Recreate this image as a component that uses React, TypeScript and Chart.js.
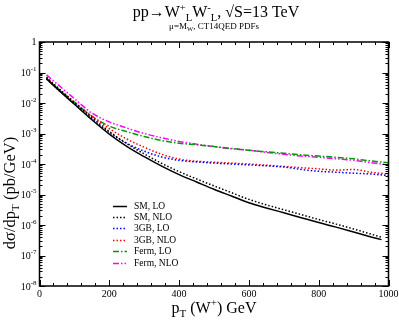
import React, { useEffect, useRef } from "react";
import { Chart, registerables } from "chart.js";

Chart.register(...registerables);

const ptFull = [20, 50, 100, 150, 200, 250, 300, 350, 400, 450, 500, 550, 600, 650, 700, 750, 800, 850, 900, 950, 1000];
const ptSM = [20, 50, 100, 150, 200, 250, 300, 350, 400, 450, 500, 550, 600, 650, 700, 750, 800, 850, 900, 950, 980];

const smLO = [6.17e-2, 2.95e-2, 9.12e-3, 2.82e-3, 9.55e-4, 3.8e-4, 1.74e-4, 8.51e-5, 4.47e-5, 2.57e-5, 1.48e-5, 8.91e-6, 5.37e-6, 3.63e-6, 2.51e-6, 1.74e-6, 1.2e-6, 8.51e-7, 5.89e-7, 4.07e-7, 3.31e-7];
const smNLO = [6.92e-2, 3.31e-2, 1.02e-2, 3.31e-3, 1.17e-3, 4.68e-4, 2.14e-4, 1.05e-4, 5.62e-5, 3.24e-5, 1.91e-5, 1.15e-5, 6.92e-6, 4.57e-6, 3.16e-6, 2.19e-6, 1.51e-6, 1.07e-6, 7.41e-7, 5.01e-7, 3.98e-7];
const gb3LO = [6.17e-2, 3.02e-2, 9.55e-3, 3.02e-3, 1.07e-3, 4.79e-4, 2.63e-4, 1.7e-4, 1.32e-4, 1.17e-4, 1.07e-4, 1.0e-4, 9.33e-5, 8.71e-5, 7.94e-5, 6.61e-5, 5.75e-5, 5.37e-5, 5.01e-5, 4.68e-5, 4.17e-5];
const gb3NLO = [6.92e-2, 3.39e-2, 1.07e-2, 3.63e-3, 1.45e-3, 6.61e-4, 3.55e-4, 2.09e-4, 1.45e-4, 1.23e-4, 1.15e-4, 1.07e-4, 1.0e-4, 9.12e-5, 8.32e-5, 7.59e-5, 6.92e-5, 6.31e-5, 6.61e-5, 5.37e-5, 4.68e-5];
const fermLO = [6.46e-2, 3.16e-2, 1.07e-2, 3.72e-3, 1.74e-3, 1.15e-3, 7.94e-4, 5.89e-4, 4.79e-4, 4.27e-4, 3.72e-4, 3.24e-4, 2.82e-4, 2.51e-4, 2.24e-4, 2.0e-4, 1.82e-4, 1.66e-4, 1.48e-4, 1.26e-4, 1.1e-4];
const fermNLO = [8.32e-2, 4.27e-2, 1.38e-2, 4.68e-3, 2.4e-3, 1.51e-3, 1.0e-3, 7.24e-4, 5.5e-4, 4.47e-4, 3.72e-4, 3.16e-4, 2.82e-4, 2.4e-4, 2.09e-4, 1.82e-4, 1.66e-4, 1.48e-4, 1.32e-4, 1.1e-4, 9.33e-5];

const seriesLabels = ["SM, LO", "SM, NLO", "3GB, LO", "3GB, NLO", "Ferm, LO", "Ferm, NLO"];
const xTicks = [0, 200, 400, 600, 800, 1000];
const yExps = [0, -1, -2, -3, -4, -5, -6, -7, -8];

const SERIF = "'Liberation Serif', 'DejaVu Serif', serif";

type Seg = [string, number, number];

function drawSegs(ctx: CanvasRenderingContext2D, segs: Seg[], cx: number, by: number) {
  let total = 0;
  for (const [t, s] of segs) {
    ctx.font = `${s}px ${SERIF}`;
    total += ctx.measureText(t).width;
  }
  let x = cx - total / 2;
  ctx.textAlign = "left";
  ctx.textBaseline = "alphabetic";
  for (const [t, s, dy] of segs) {
    ctx.font = `${s}px ${SERIF}`;
    ctx.fillText(t, x, by + dy);
    x += ctx.measureText(t).width;
  }
}

const styles = [
  { color: "#000000", dash: [] as number[] },
  { color: "#000000", dash: [1.5, 2] },
  { color: "#0000ff", dash: [1.5, 2] },
  { color: "#ff0000", dash: [1.5, 2] },
  { color: "#009900", dash: [6, 2, 1.5, 2] },
  { color: "#ff00ff", dash: [6, 2, 1.5, 2, 1.5, 2] },
];

const decorPlugin = {
  id: "decor",
  afterDraw(chart: any) {
    const ctx: CanvasRenderingContext2D = chart.ctx;
    const xs = chart.scales.x;
    const ys = chart.scales.y;
    const { left, right, top, bottom } = chart.chartArea;
    ctx.save();
    ctx.strokeStyle = "#000";
    ctx.fillStyle = "#000";
    ctx.setLineDash([]);

    ctx.lineWidth = 1;
    ctx.beginPath();
    for (let v = 0; v <= 1000; v += 40) {
      const major = v % 200 === 0;
      const len = major ? 6 : 3;
      const px = Math.round(xs.getPixelForValue(v)) + 0.5;
      ctx.moveTo(px, bottom);
      ctx.lineTo(px, bottom - len);
      ctx.moveTo(px, top);
      ctx.lineTo(px, top + len);
    }
    for (let e = -8; e <= 0; e++) {
      for (let m = 1; m <= 9; m++) {
        const v = m * Math.pow(10, e);
        if (v > 1.0001) break;
        const len = m === 1 ? 6 : 3;
        const py = Math.round(ys.getPixelForValue(v)) + 0.5;
        ctx.moveTo(left, py);
        ctx.lineTo(left + len, py);
        ctx.moveTo(right, py);
        ctx.lineTo(right - len, py);
      }
    }
    ctx.stroke();

    ctx.lineWidth = 1.5;
    ctx.strokeRect(left, top, right - left, bottom - top);

    ctx.font = `10px ${SERIF}`;
    ctx.textAlign = "center";
    ctx.textBaseline = "top";
    for (const v of xTicks) {
      ctx.fillText(String(v), xs.getPixelForValue(v), bottom + 3);
    }

    for (const e of yExps) {
      const py = ys.getPixelForValue(Math.pow(10, e));
      const rx = left - 3;
      if (e === 0) {
        ctx.font = `10px ${SERIF}`;
        ctx.textAlign = "right";
        ctx.textBaseline = "middle";
        ctx.fillText("1", rx, py);
        continue;
      }
      const sup = String(e);
      ctx.font = `7px ${SERIF}`;
      const ws = ctx.measureText(sup).width;
      ctx.font = `10px ${SERIF}`;
      const wb = ctx.measureText("10").width;
      const x0 = rx - ws - wb;
      ctx.textAlign = "left";
      ctx.textBaseline = "middle";
      ctx.fillText("10", x0, py + 1);
      ctx.font = `7px ${SERIF}`;
      ctx.fillText(sup, x0 + wb, py - 3);
    }

    drawSegs(ctx, [
      ["pp\u2192W", 16, 0], ["+", 10.5, -6], ["L", 10.5, 4], ["W", 16, 0], ["-", 10.5, -6], ["L", 10.5, 4], [", \u221AS=13 TeV", 16, 0],
    ], (left + right) / 2 + 2, 17);
    drawSegs(ctx, [["\u03BC=M", 9, 0], ["W", 6.5, 2], [", CT14QED PDFs", 9, 0]], (left + right) / 2, 29);

    drawSegs(ctx, [["p", 16, 0], ["T", 11, 4], [" (W", 16, 0], ["+", 11, -7], [") GeV", 16, 0]], (left + right) / 2, 313);

    ctx.save();
    ctx.translate(15, 193);
    ctx.rotate(-Math.PI / 2);
    drawSegs(ctx, [["d\u03C3/dp", 16.5, 0], ["T", 11, 4], [" (pb/GeV)", 16.5, 0]], 0, 0);
    ctx.restore();

    const ly0 = 205.5;
    const dy = 11.4;
    seriesLabels.forEach((lab, i) => {
      const y = ly0 + i * dy;
      ctx.strokeStyle = styles[i].color;
      ctx.lineWidth = 1.5;
      ctx.setLineDash(styles[i].dash);
      ctx.beginPath();
      ctx.moveTo(113, Math.round(y) + 0.5);
      ctx.lineTo(127, Math.round(y) + 0.5);
      ctx.stroke();
      ctx.setLineDash([]);
      ctx.fillStyle = "#000";
      ctx.font = `9.5px ${SERIF}`;
      ctx.textAlign = "left";
      ctx.textBaseline = "middle";
      ctx.fillText(lab, 134, y + 0.5);
    });

    ctx.restore();
  },
};

export default function App() {
  const ref = useRef<HTMLCanvasElement | null>(null);
  useEffect(() => {
    if (!ref.current) return;
    const seriesData = [smLO, smNLO, gb3LO, gb3NLO, fermLO, fermNLO];
    const xsFor = [ptSM, ptSM, ptFull, ptFull, ptFull, ptFull];
    const chart = new Chart(ref.current, {
      type: "line",
      data: {
        datasets: seriesData.map((arr, i) => ({
          label: seriesLabels[i],
          data: arr.map((v, j) => ({ x: xsFor[i][j], y: v })),
          borderColor: styles[i].color,
          borderDash: styles[i].dash,
          borderWidth: 1.5,
          pointRadius: 0,
          fill: false,
          cubicInterpolationMode: "monotone" as const,
        })),
      },
      options: {
        animation: false,
        responsive: false,
        devicePixelRatio: 1,
        layout: { padding: { left: 39.5, right: 10.5, top: 42, bottom: 35 } },
        plugins: { legend: { display: false }, tooltip: { enabled: false }, title: { display: false } },
        scales: {
          x: { type: "linear", min: 0, max: 1000, display: false },
          y: { type: "logarithmic", min: 1e-8, max: 1, display: false },
        },
      },
      plugins: [decorPlugin],
    });
    return () => chart.destroy();
  }, []);
  return (
    <div style={{ position: "absolute", left: 0, top: 0, width: 399, height: 321, background: "#fff" }}>
      <canvas ref={ref} width={399} height={321} style={{ width: 399, height: 321 }} />
    </div>
  );
}
